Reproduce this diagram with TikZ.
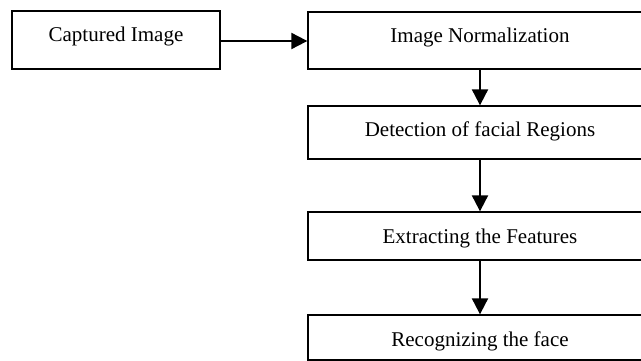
\documentclass[tikz,border=0pt]{standalone}
\usepackage{fontspec}
\setmainfont{Liberation Serif}
\usetikzlibrary{arrows.meta}
\begin{document}
\begin{tikzpicture}[x=1pt,y=-1pt,
  box/.style={draw=black,line width=1.3pt,inner sep=0pt,anchor=base,
    text height=31pt,font=\fontsize{21}{25}\selectfont},
  flow/.style={draw=black,line width=2pt,-{Triangle[length=16pt,width=16pt]}}]
\useasboundingbox (0,0) rectangle (641,361);
\clip (0,0) rectangle (641,361);
\node[box,minimum width=208pt,text depth=27pt] (cap) at (116,42) {Captured Image};
\node[box,minimum width=344pt,text depth=26pt] (norm) at (480,43) {Image Normalization};
\node[box,minimum width=344pt,text depth=22pt] (det) at (480,137) {Detection of facial Regions};
\node[box,minimum width=344pt,text depth=17pt] (ext) at (480,243) {Extracting the Features};
\node[box,minimum width=344pt,text depth=14pt] (rec) at (480,346) {Recognizing the face};
\draw[flow] (cap.east |- 0,41) -- (norm.west |- 0,41);
\draw[flow] (norm.south) -- (det.north);
\draw[flow] (det.south) -- (ext.north);
\draw[flow] (ext.south) -- (rec.north);
\end{tikzpicture}
\end{document}
